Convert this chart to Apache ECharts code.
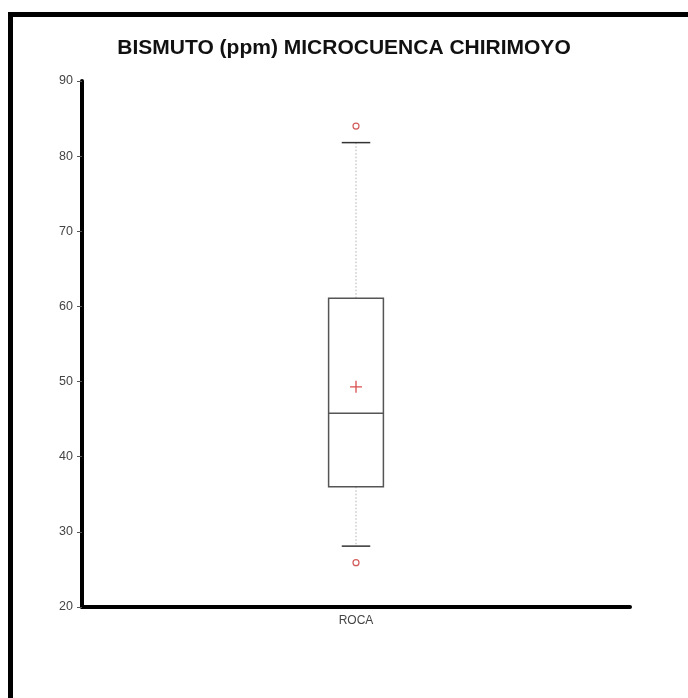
<!DOCTYPE html>
<html><head><meta charset="utf-8">
<script src="https://cdn.jsdelivr.net/npm/echarts@6/dist/echarts.min.js"></script>
<style>html,body{margin:0;padding:0;background:#fff}#c{width:688px;height:698px}</style>
</head><body><div id="c"></div>
<script>
const titleText = 'BISMUTO (ppm) MICROCUENCA CHIRIMOYO';
const categories = ['ROCA'];
// [lower whisker, Q1, median, Q3, upper whisker]
const boxStats = [[28.1, 36.0, 45.8, 61.1, 81.8]];
const outlierValues = [84.0, 25.9];
const meanValues = [49.3];
const yMin = 20, yMax = 90, yStep = 10;

const boxData = boxStats.map((s, i) => [i].concat(s));
const outlierData = outlierValues.map(v => [0, v]);
const meanData = meanValues.map((v, i) => [i, v]);

const chart = echarts.init(document.getElementById('c'));
chart.setOption({
  backgroundColor: '#fff',
  animation: false,
  title: {
    text: titleText, left: 'center', top: 33,
    textStyle: { fontFamily: 'Liberation Sans, Arial', fontWeight: 'bold', fontSize: 21, color: '#111' }
  },
  graphic: [{
    type: 'rect', silent: true, z: 100,
    shape: { x: 10.5, y: 14.5, width: 720, height: 720 },
    style: { fill: 'none', stroke: '#000', lineWidth: 5 }
  }],
  grid: { left: 82, right: 58, top: 81, bottom: 91 },
  xAxis: {
    type: 'category', data: categories,
    axisLine: { lineStyle: { color: '#000', width: 4 } },
    axisTick: { show: false },
    axisLabel: { color: '#444', fontSize: 12, fontFamily: 'Liberation Sans, Arial', margin: 8 },
    splitLine: { show: false }
  },
  yAxis: {
    type: 'value', min: yMin, max: yMax, interval: yStep,
    axisLine: { show: true, lineStyle: { color: '#000', width: 4 } },
    axisTick: { show: true, length: 5, lineStyle: { color: '#555', width: 1 } },
    axisLabel: { color: '#444', fontSize: 12.5, fontFamily: 'Liberation Sans, Arial', margin: 9 },
    splitLine: { show: false }
  },
  series: [
    {
      type: 'custom',
      data: boxData,
      encode: { x: 0, y: [1, 2, 3, 4, 5] },
      renderItem: function (params, api) {
        const x = api.value(0);
        const band = api.size([1, 0])[0];
        const bw = band * 0.1, cw = band * 0.052;
        const pMin = api.coord([x, api.value(1)]);
        const pQ1 = api.coord([x, api.value(2)]);
        const pMed = api.coord([x, api.value(3)]);
        const pQ3 = api.coord([x, api.value(4)]);
        const pMax = api.coord([x, api.value(5)]);
        const cx = pMed[0];
        const dotted = { stroke: '#b0b0b0', lineWidth: 1, lineDash: [1.5, 2] };
        const solid = { stroke: '#555', lineWidth: 1.5, fill: 'none' };
        const cap = { stroke: '#333', lineWidth: 1.5 };
        return {
          type: 'group',
          children: [
            { type: 'line', shape: { x1: cx, y1: pQ3[1], x2: cx, y2: pMax[1] }, style: dotted },
            { type: 'line', shape: { x1: cx, y1: pQ1[1], x2: cx, y2: pMin[1] }, style: dotted },
            { type: 'line', shape: { x1: cx - cw / 2, y1: pMax[1], x2: cx + cw / 2, y2: pMax[1] }, style: cap },
            { type: 'line', shape: { x1: cx - cw / 2, y1: pMin[1], x2: cx + cw / 2, y2: pMin[1] }, style: cap },
            { type: 'rect', shape: { x: cx - bw / 2, y: pQ3[1], width: bw, height: pQ1[1] - pQ3[1] }, style: solid },
            { type: 'line', shape: { x1: cx - bw / 2, y1: pMed[1], x2: cx + bw / 2, y2: pMed[1] }, style: solid }
          ]
        };
      }
    },
    {
      type: 'scatter', data: outlierData, symbol: 'circle', symbolSize: 6,
      itemStyle: { color: '#fff', borderColor: '#c83232', borderWidth: 1.2 }
    },
    {
      type: 'scatter', data: meanData, symbol: 'path://M0,5L10,5M5,0L5,10', symbolSize: 12,
      itemStyle: { color: 'none', borderColor: '#d02020', borderWidth: 1.3 }
    }
  ]
});
</script>
</body></html>
